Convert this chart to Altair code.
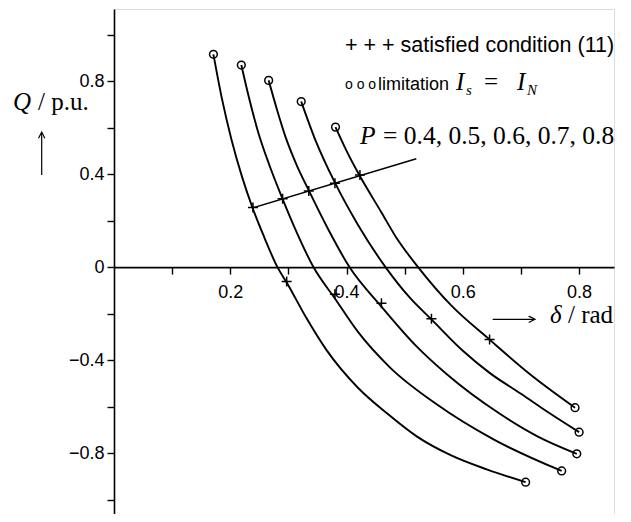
import altair as alt
import pandas as pd

# ---------------- data ----------------
P_VALUES = [0.4, 0.5, 0.6, 0.7, 0.8]

DELTA_P04 = [0.171, 0.186, 0.202, 0.220, 0.239, 0.259, 0.280, 0.299, 0.330, 0.365, 0.420, 0.470, 0.520, 0.580, 0.641, 0.708]
Q_P04 = [0.915, 0.72, 0.549, 0.39, 0.25, 0.125, 0.005, -0.075, -0.215, -0.355, -0.52, -0.63, -0.727, -0.81, -0.87, -0.925]

DELTA_P05 = [0.219, 0.232, 0.248, 0.267, 0.288, 0.315, 0.343, 0.380, 0.420, 0.474, 0.555, 0.652, 0.770]
Q_P05 = [0.869, 0.73, 0.58, 0.44, 0.305, 0.145, 0.0, -0.135, -0.28, -0.43, -0.59, -0.74, -0.877]

DELTA_P06 = [0.266, 0.280, 0.295, 0.314, 0.334, 0.370, 0.405, 0.460, 0.520, 0.572, 0.663, 0.730, 0.796]
Q_P06 = [0.803, 0.68, 0.56, 0.44, 0.335, 0.155, 0.0, -0.17, -0.34, -0.46, -0.63, -0.73, -0.803]

DELTA_P07 = [0.322, 0.345, 0.380, 0.420, 0.467, 0.510, 0.546, 0.600, 0.646, 0.700, 0.750, 0.800]
Q_P07 = [0.712, 0.555, 0.363, 0.18, 0.0, -0.135, -0.225, -0.36, -0.455, -0.545, -0.63, -0.71]

DELTA_P08 = [0.381, 0.400, 0.421, 0.460, 0.486, 0.523, 0.580, 0.646, 0.715, 0.793]
Q_P08 = [0.602, 0.50, 0.40, 0.235, 0.125, 0.0, -0.165, -0.312, -0.46, -0.605]

# limitation I_s = I_N (circles: upper and lower ends of each curve)
LIMIT_DELTA = [0.171, 0.219, 0.266, 0.322, 0.381, 0.708, 0.770, 0.796, 0.800, 0.793]
LIMIT_Q = [0.915, 0.869, 0.803, 0.712, 0.602, -0.925, -0.877, -0.803, -0.71, -0.605]

# satisfied condition (11) (plus markers)
COND_DELTA = [0.239, 0.290, 0.335, 0.380, 0.423, 0.297, 0.380, 0.460, 0.546, 0.646]
COND_Q = [0.256, 0.294, 0.327, 0.361, 0.396, -0.062, -0.117, -0.156, -0.222, -0.311]

# leader line to the P label
LEADER_DELTA = [0.239, 0.520]
LEADER_Q = [0.255, 0.466]

X_TICKS = [0.1, 0.2, 0.3, 0.4, 0.5, 0.6, 0.7, 0.8]
X_LABELS = [0.2, 0.4, 0.6, 0.8]
Y_TICKS = [-1.0, -0.8, -0.6, -0.4, -0.2, 0.0, 0.2, 0.4, 0.6, 0.8, 1.0]
Y_LABELS = [-0.8, -0.4, 0.0, 0.4, 0.8]

# ---------------- tables ----------------
curves = []
for p, ds, qs in zip(P_VALUES,
                     [DELTA_P04, DELTA_P05, DELTA_P06, DELTA_P07, DELTA_P08],
                     [Q_P04, Q_P05, Q_P06, Q_P07, Q_P08]):
    for d, q in zip(ds, qs):
        curves.append({"P": p, "d": d, "q": q})
curve_df = pd.DataFrame(curves)
limit_df = pd.DataFrame({"d": LIMIT_DELTA, "q": LIMIT_Q})
cond_df = pd.DataFrame({"d": COND_DELTA, "q": COND_Q})
leader_df = pd.DataFrame({"d": [LEADER_DELTA[0]], "q": [LEADER_Q[0]],
                          "d2": [LEADER_DELTA[1]], "q2": [LEADER_Q[1]]})

# ---------------- layout ----------------
W, H = 500, 505
PAD = {"left": 106, "top": 1, "right": 9, "bottom": 0}
OX, OY = 8 + PAD["left"], 8 + PAD["top"]   # page position of plot origin
X_DOM = [0, 0.86]
Y_DOM = [-1.062, 1.11]
Y_ZERO_FROM_BOTTOM = H * (0 - Y_DOM[0]) / (Y_DOM[1] - Y_DOM[0])

SANS = "Liberation Sans"
SERIF = "Liberation Serif"

xs = alt.Scale(domain=X_DOM, nice=False, zero=False)
ys = alt.Scale(domain=Y_DOM, nice=False, zero=False)


def shown(values):
    return "(" + " || ".join(f"abs(datum.value - ({v})) < 1e-6" for v in values) + ")"


x_lab = shown(X_LABELS) + " ? format(datum.value, '.1f') : ''"
y_lab = (shown(Y_LABELS) + " ? (abs(datum.value) < 1e-6 ? '0\u2007\u2007' : format(datum.value, '.1f')) : ''")

AX_STYLE = dict(title=None, grid=False, domain=True, ticks=True, labels=True,
                domainColor="black", domainWidth=1.6, domainOpacity=1,
                tickColor="black", tickWidth=1.4, tickSize=7, tickOpacity=1,
                labelFont=SANS, labelFontSize=18, labelColor="black",
                labelFlush=False, labelOverlap=False)
x_axis = alt.Axis(values=X_TICKS, labelExpr=x_lab, offset=-Y_ZERO_FROM_BOTTOM,
                  labelPadding=9, orient="bottom", **AX_STYLE)
y_axis = alt.Axis(values=Y_TICKS, labelExpr=y_lab, labelPadding=3, orient="left", **AX_STYLE)


def XE(field="d"):
    return alt.X(f"{field}:Q", scale=xs, axis=x_axis)


def YE(field="q"):
    return alt.Y(f"{field}:Q", scale=ys, axis=y_axis)


lines = alt.Chart(curve_df).mark_line(interpolate="monotone", color="black", strokeWidth=1.9).encode(
    x=XE(), y=YE(), detail="P:N",
)

leader = alt.Chart(leader_df).mark_rule(color="black", strokeWidth=1.4).encode(
    x=XE(), y=YE(), x2="d2:Q", y2="q2:Q",
)

circles = alt.Chart(limit_df).mark_point(shape="circle", filled=False, color="black",
                                         size=60, strokeWidth=1.5, opacity=1).encode(
    x=XE(), y=YE(),
)

pluses = alt.Chart(cond_df).mark_point(shape="M-1,0L1,0M0,-1L0,1", filled=False, color="black",
                                       size=100, strokeWidth=1.5, opacity=1).encode(
    x=XE(), y=YE(),
)

one = alt.Data(values=[{"a": 1}])


def label(txt, px, py, size, font, style="normal", align="left"):
    return alt.Chart(one).mark_text(text=txt, font=font, fontSize=size, fontStyle=style,
                                    align=align, baseline="alphabetic", color="black").encode(
        x=alt.value(px - OX), y=alt.value(py - OY))


def hrule(px1, px2, py):
    return alt.Chart(one).mark_rule(color="black", strokeWidth=1.2).encode(
        x=alt.value(px1 - OX), x2=alt.value(px2 - OX), y=alt.value(py - OY))


def vrule(px, py1, py2):
    return alt.Chart(one).mark_rule(color="black", strokeWidth=1.2).encode(
        x=alt.value(px - OX), y=alt.value(py1 - OY), y2=alt.value(py2 - OY))


def head(shape, px, py):
    return alt.Chart(one).mark_point(shape=shape, filled=False, color="black", size=160,
                                     strokeWidth=1.2, opacity=1).encode(
        x=alt.value(px - OX), y=alt.value(py - OY))


texts = [
    label("+ + + satisfied condition (11)", 345, 52, 21.5, SANS),
    label("o o o", 345, 89, 14, SANS),
    label("limitation", 378, 90, 18, SANS),
    label("I", 456, 90, 25, SERIF, "italic"),
    label("s", 466, 95, 15, SERIF, "italic"),
    label("=", 484, 90, 25, SERIF),
    label("I", 517, 90, 25, SERIF, "italic"),
    label("N", 527, 95, 15, SERIF, "italic"),
    label("P", 360, 144, 25.5, SERIF, "italic"),
    label("= 0.4, 0.5, 0.6, 0.7, 0.8", 383, 144, 25.5, SERIF),
    label("Q", 13, 110, 25, SERIF, "italic"),
    label("/ p.u.", 38, 110, 25, SERIF),
    label("\u03b4", 550, 323, 25, SERIF, "italic"),
    label("/ rad", 568, 323, 25, SERIF),
    vrule(41.7, 133, 175),
    head("M-0.5,1L0,0L0.5,1", 41.7, 132),
    hrule(492.7, 534, 319.3),
    head("M-1,-0.5L0,0L-1,0.5", 535, 319.3),
]

chart = alt.layer(lines, leader, circles, pluses, *texts).properties(
    width=W, height=H,
    autosize=alt.AutoSizeParams(type="none"),
    padding=PAD,
).configure_view(stroke=None).configure(background="white")

chart.save("out.html", embed_options={"renderer": "svg", "actions": False})
